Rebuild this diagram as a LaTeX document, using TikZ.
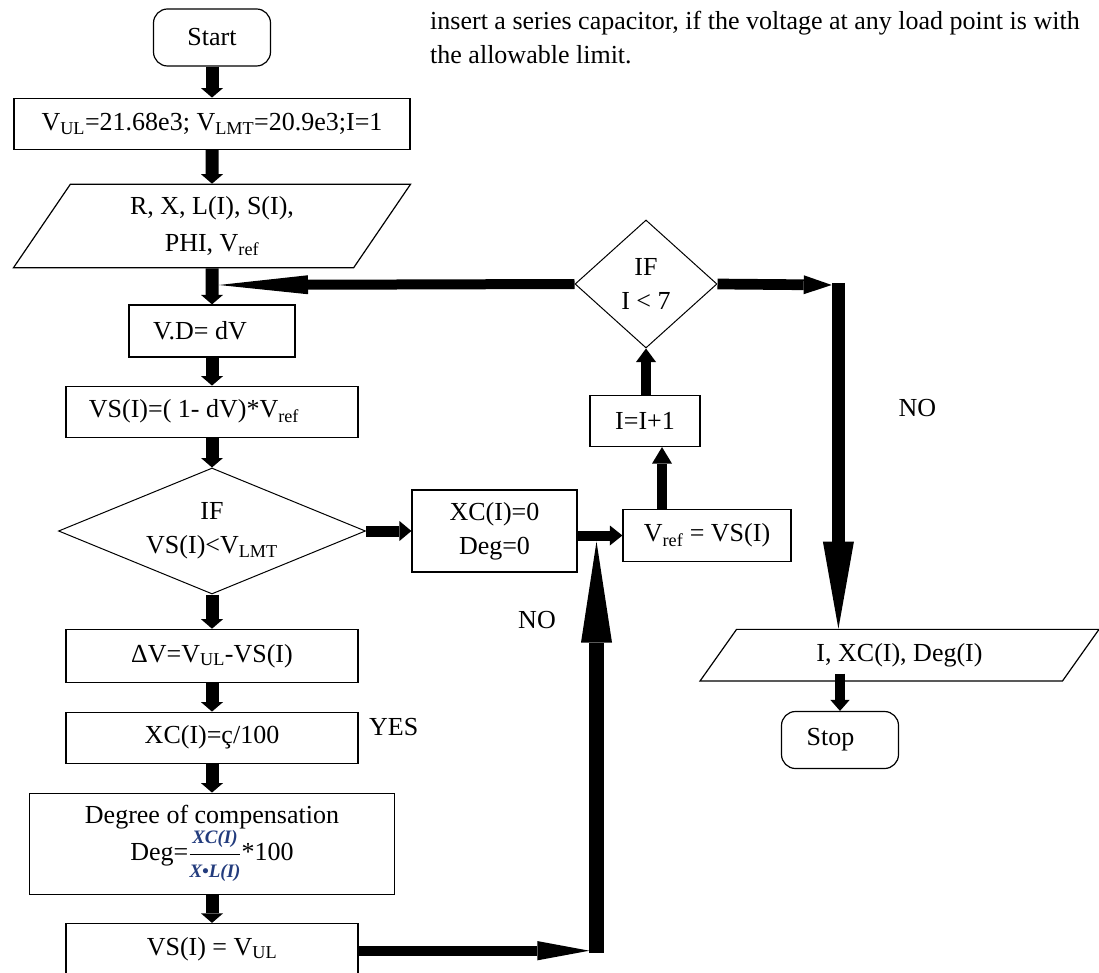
\documentclass[tikz,border=0pt]{standalone}
\usepackage{fontspec}
\setmainfont{Liberation Serif}
\usepackage{amsmath}
\usetikzlibrary{arrows.meta,shapes.geometric}

\newcommand{\subs}[1]{\textsubscript{#1}}
\definecolor{eqblue}{RGB}{35,60,125}

\begin{document}
\begin{tikzpicture}[x=1pt,y=-1pt,
  font=\fontsize{26}{34}\selectfont,
  box/.style={draw,line width=1.2pt,inner sep=0pt,align=center},
  term/.style={box,rounded corners=14pt,minimum width=117pt,minimum height=57pt},
  io/.style={draw,line width=1.2pt,shape=trapezium,trapezium stretches body,inner sep=0pt,align=center},
  cond/.style={draw,line width=1pt,shape=diamond,inner sep=0pt,align=center},
  flow/.style={line width=13pt,-{Triangle[length=9.5pt,width=22pt,line width=0pt]}},
  link/.style n args={3}{line width=#1,-{Triangle[length=#2,width=#3,line width=0pt]}}
]
\useasboundingbox (0,0) rectangle (1099,973);

\node[anchor=base west,inner sep=0pt] (para1) at (430,29.3) {insert a series capacitor, if the voltage at any load point is with};
\node[anchor=base west,inner sep=0pt] (para2) at (430,63.8) {the allowable limit.};

\node[term] (start) at (212,37.5) {Start};
\node[box,minimum width=396pt,minimum height=51pt] (init) at (212,123.7) {V\subs{UL}=21.68e3; V\subs{LMT}=20.9e3;I=1};
\node[io,trapezium left angle=46.3,trapezium right angle=133.7,minimum width=397pt,minimum height=83.4pt] (input) at (212,226) {R, X, L(I), S(I),\\[3pt]PHI, V\subs{ref}};
\node[box,minimum width=166pt,minimum height=52pt] (vd) at (212,331) {V.D= dV\hspace{24pt}};
\node[box,minimum width=292pt,minimum height=51pt] (vs) at (212,411.7) {VS(I)=( 1- dV)*V\subs{ref}\hspace{36pt}};
\node[cond,aspect=2.44,minimum width=307pt,minimum height=126pt] (test) at (212,531) {IF\\VS(I)<V\subs{LMT}};
\node[box,minimum width=292pt,minimum height=53pt] (dv) at (212,655.8) {ΔV=V\subs{UL}-VS(I)};
\node[box,minimum width=292pt,minimum height=51pt] (xc) at (212,737.7) {XC(I)=ç/100};
\node[box,minimum width=365pt,minimum height=101pt] (deg) at (212,843.7) {Degree of compensation\\
  Deg=$\genfrac{}{}{1pt}{0}{\text{\color{eqblue}\fontsize{19}{19}\selectfont\bfseries\itshape XC(I)}}{\text{\color{eqblue}\fontsize{19}{19}\selectfont\bfseries\itshape X\textbullet L(I)}}$*100};
\node[box,minimum width=292pt,minimum height=51pt] (vsul) at (212,949) {VS(I) = V\subs{UL}};

\node[box,minimum width=165pt,minimum height=82pt] (zero) at (494.5,531) {XC(I)=0\\Deg=0};
\node[box,minimum width=168pt,minimum height=52pt] (vref) at (707,535.5) {V\subs{ref} = VS(I)};
\node[box,minimum width=110pt,minimum height=51pt] (next) at (645,421) {I=I+1};
\node[cond,aspect=1.11,minimum width=142pt,minimum height=128pt] (loop) at (646,284) {IF\\I < 7};
\node[io,trapezium left angle=32.9,trapezium right angle=147.1,minimum width=399pt,minimum height=51.7pt] (out) at (899.5,655.2) {I, XC(I), Deg(I)};
\node[term] (stop) at (840,740) {Stop\hspace{19pt}};

\node (yes) at (393.7,727) {YES};
\node (no1) at (537,620) {NO};
\node (no2) at (917.4,408.3) {NO};

\coordinate (fb) at (219,285);
\coordinate (c1) at (831.7,285);
\coordinate (c1top) at (838.4,283);
\coordinate (c2) at (589.3,950.7);
\coordinate (c2bot) at (596.5,953);
\coordinate (j1) at (596.5,541.5);

\draw[flow] (start) -- (init);
\draw[flow] (init) -- (input);
\draw[flow] (input) -- (vd);
\draw[flow] (vd) -- (vs);
\draw[flow] (vs) -- (test);
\draw[flow] (test) -- (dv);
\draw[flow] (dv) -- (xc);
\draw[flow] (xc) -- (deg);
\draw[flow] (deg) -- (vsul);

\draw[link={11pt}{12pt}{20pt}] (test) -- (zero);
\draw[link={10pt}{12.5pt}{20pt}] (zero.east |- vref.west) -- (vref.west);
\draw[link={10.5pt}{16.5pt}{20pt}] ([xshift=-45pt]vref.north) -- ([xshift=-45pt]vref.north |- next.south);
\draw[link={10.5pt}{13.5pt}{20pt}] (next.north -| loop.south) -- (loop.south);
\draw[link={10pt}{89pt}{19pt}] (loop.west) -- (fb);
\draw[link={10.7pt}{28pt}{19pt}] (loop.east) -- (c1);
\draw[link={13.3pt}{87pt}{31pt}] (c1top) -- (out.north -| c1top);
\draw[link={10.5pt}{11pt}{19.3pt}] ([yshift=8pt]out.south -| stop.north) -- (stop.north);
\draw[link={10pt}{52pt}{19.3pt}] (vsul.east |- c2) -- (c2);
\draw[link={14.4pt}{101pt}{31pt}] (c2bot) -- (j1);
\end{tikzpicture}
\end{document}
